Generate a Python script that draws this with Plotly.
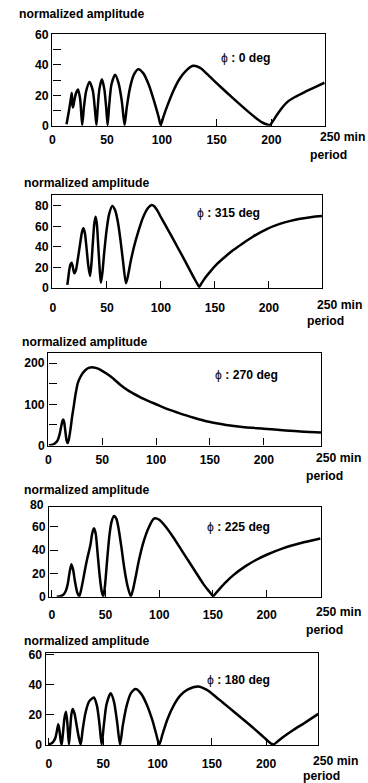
import plotly.graph_objects as go

# ---------------- data (period in min, normalized amplitude) ----------------
p1_x = [13, 15, 17, 17.8, 18.3, 18.9, 20, 21.5, 23.5, 25.5, 27.3, 29, 31, 34, 37, 39, 40.3, 41.5, 43, 45.3,
        47.5, 49.3, 50.5, 52, 54, 57.3, 60.5, 63.5, 66, 68, 71, 74.5, 78.5, 83, 88, 93, 97, 99, 101.5, 105,
        110, 116, 122, 128.5, 135, 142, 150, 160, 170, 177, 185, 192, 196, 198.5, 201, 205, 210, 215, 222,
        231, 240, 248.5]
p1_y = [1, 9, 18, 21.5, 14, 12, 16, 21, 23.7, 17, 0.5, 13, 23, 28.7, 23, 10, 0.5, 12, 24, 30.5,
        24, 11, 0.5, 14, 27, 33.5, 28, 16, 0.5, 12, 25, 33.5, 37, 34.5, 27, 16, 6, 0.5, 6, 13,
        22, 30.5, 36, 39.3, 38, 33.5, 28, 21.3, 14.8, 10.4, 5.6, 2, 0.8, 0.3, 2.5, 7, 12, 15.8, 19,
        22.3, 25.4, 28.2]

p2_x = [13.3, 14.2, 15.1, 16.2, 17.3, 18.5, 19.8, 21.2, 23, 25, 26.8, 28.1, 29.5, 31, 32.7, 34.3, 35.5, 37,
        38.3, 39.5, 40.7, 42, 43.3, 44.4, 45.8, 47.5, 49.5, 52, 54.9, 57.5, 60, 62.5, 65, 67.6, 69.5, 72,
        75, 79, 83.5, 88, 91.4, 94, 97, 100, 104, 108, 116, 122, 127, 131, 134, 135.5, 137.5, 141, 146,
        152, 160, 167, 175, 185, 198, 210, 220, 229, 240, 249]
p2_y = [3, 10, 17.6, 23, 24.7, 20, 14.3, 17, 28, 42, 54, 58.2, 54, 40, 22, 11.7, 22, 45,
        63, 69.6, 62, 40, 18, 5, 15, 35, 55, 72, 80, 76, 65, 47, 25, 4.6, 12, 26,
        40, 55, 69, 78, 81, 79.5, 75, 69, 61.5, 54, 38.5, 27, 17, 9, 3.5, 1.3, 4.5, 10, 16.5,
        23.5, 31, 37, 43, 50, 57.5, 62.5, 65.5, 67.5, 69.2, 70.2]

p3_x = [0.5, 3, 6, 8.5, 10.5, 12, 13.2, 13.8, 14.6, 15.8, 17, 18, 19, 20.5, 22, 23.7, 25.5, 27.5, 29.9,
        32, 34.5, 37.5, 40.7, 44, 48.4, 55, 61, 67, 75, 85.5, 93, 102.5, 110, 120, 135, 149, 165, 180,
        200, 220, 237, 253]
p3_y = [0.5, 1.5, 5, 12, 27, 47, 60, 63, 58, 35, 12, 6, 14, 38, 68, 97, 128, 153, 167,
        176, 183.5, 188.5, 190, 188.5, 184, 173, 161, 147, 132, 117, 108, 97.6, 89, 80, 67.5, 57.5, 50, 45,
        40.8, 36.5, 33.5, 31.5]

p4_x = [4.5, 8, 11, 13, 14.8, 16.5, 18.2, 19.8, 21.5, 23.5, 25.5, 27, 29, 31, 33, 34.8, 36, 37.5, 39.2,
        40.8, 42.5, 44.5, 46.3, 47.9, 49.5, 51.5, 53.5, 55.5, 57.8, 60, 62, 64.5, 67.5, 70.5, 73.5, 75.5,
        78, 81, 85, 90, 95, 100, 106, 113, 121, 128.6, 135, 141, 146, 149, 150.3, 152, 156, 162, 169,
        180, 190, 200, 215, 231, 241, 250]
p4_y = [0, 0.5, 2, 5, 11, 21, 27.8, 23, 13, 4, 0.3, 5, 14, 24, 33, 40, 45, 54, 58.7,
        54, 38, 18, 5, 0.3, 10, 32, 52, 64, 69.3, 67, 59, 44, 24, 9, 0.3, 6,
        17, 31, 46, 59, 67, 66, 60, 51, 39.5, 28.7, 19.5, 11, 5, 1.5, 0.3, 2.3, 6.5, 12.5, 18.5,
        26, 31.5, 36, 41.5, 45.8, 48, 50]

p5_x = [0, 2, 4, 6, 7.5, 8.6, 9.8, 11, 11.7, 12.8, 14.3, 15.7, 17, 18.4, 19.6, 20.6, 21.8, 23.5, 25.5,
        27.5, 29.2, 31, 33.5, 37, 41.4, 44.2, 46.5, 48.5, 50.5, 53, 56.8, 59.8, 62.8, 65.4, 68, 71.5,
        75.5, 79.8, 85, 90, 95, 98.5, 101.6, 104.5, 109, 115, 121, 128, 137.5, 145, 151.3, 160, 170,
        185, 195, 201, 204.5, 206.5, 210, 216, 225, 235, 248]
p5_y = [0.5, 1, 2.2, 5, 10, 13.8, 9, 2, 0.3, 7, 18, 22.2, 14, 0.3, 11, 20, 24, 21, 13,
        5, 0.3, 10, 21, 29, 31.6, 26, 14, 0.3, 13, 27, 34.4, 29, 15, 0.3, 13, 26,
        34.5, 37.3, 34, 27, 17, 8, 0.3, 7, 17, 26.5, 33, 37, 38.9, 36.8, 33.5, 28.3, 22.3,
        13.3, 7, 3, 1, 0.3, 2, 5.5, 10, 14.5, 20.7]

phases = ["0", "315", "270", "225", "180"]
x_ticks = [0, 50, 100, 150, 200]
y_ticks = [[0, 20, 40, 60], [0, 20, 40, 60, 80], [0, 100, 200], [0, 20, 40, 60], [0, 20, 40, 60]]
y_minor = [10, None, 50, None, None]
y_ranges = [[0, 60], [0, 90.7], [0, 224], [0, 76.7], [0, 61]]
x_ranges = [[0, 249], [-0.6, 249.4], [0, 253], [-2.4, 250.3], [-3, 248]]
extra_y_label = [None, None, None, 80, None]

series = [(p1_x, p1_y), (p2_x, p2_y), (p3_x, p3_y), (p4_x, p4_y), (p5_x, p5_y)]

# ---------------- layout geometry (pixels) ----------------
W, H = 368, 783
boxes = [  # left, right, top, bottom
    (52.3, 325.0, 34.3, 125.7),
    (52.3, 322.3, 195.0, 288.0),
    (48.3, 321.0, 353.3, 445.5),
    (49.3, 320.7, 507.3, 596.7),
    (45.7, 318.3, 653.3, 745.0),
]
title_pos = [(17, 14), (22, 183), (20, 342), (22, 490), (22, 641)]
phi_pos = [(219, 58), (195, 213), (213, 375), (205, 527), (205, 680)]
xlabel_gap = [11, 17, 12, 15, 16]
period_gap = [29, 33, 30, 33, 31]

FONT = "Liberation Sans, Arial, Helvetica, sans-serif"
FS = 12.2
fig = go.Figure()
annotations = []

def px(xp):
    return xp / W

def py(yp):
    return 1 - yp / H

for i, (xs, ys) in enumerate(series):
    n = "" if i == 0 else str(i + 1)
    L, R, T, B = boxes[i]
    fig.add_trace(go.Scatter(
        x=xs, y=ys, mode="lines", xaxis="x" + n, yaxis="y" + n,
        line=dict(color="black", width=2.5, shape="spline", smoothing=0.7),
        showlegend=False, hoverinfo="skip"))
    xa = dict(
        domain=[px(L), px(R)], range=x_ranges[i], anchor="y" + n, automargin=False,
        showline=True, linecolor="black", linewidth=1.4, mirror=True,
        ticks="inside", ticklen=7, tickwidth=1.3, tickcolor="black",
        tickvals=x_ticks, ticktext=[str(v) for v in x_ticks],
        tickfont=dict(family=FONT, size=FS, color="black", weight="bold"),
        ticklabelstandoff=max(0, xlabel_gap[i] - 9),
        showgrid=False, zeroline=False, fixedrange=True)
    ya = dict(
        domain=[py(B), py(T)], range=y_ranges[i], anchor="x" + n, automargin=False,
        showline=True, linecolor="black", linewidth=1.4, mirror=True,
        ticks="inside", ticklen=8, tickwidth=1.3, tickcolor="black",
        tickvals=y_ticks[i], ticktext=[str(v) for v in y_ticks[i]],
        tickfont=dict(family=FONT, size=FS, color="black", weight="bold"),
        showgrid=False, zeroline=False, fixedrange=True)
    if y_minor[i]:
        ya["minor"] = dict(dtick=y_minor[i], tick0=0, ticks="inside", ticklen=8,
                           tickwidth=1.3, tickcolor="black", showgrid=False)
    fig.update_layout(**{"xaxis" + n: xa, "yaxis" + n: ya})

    tx, ty = title_pos[i]
    annotations.append(dict(x=px(tx), y=py(ty), xref="paper", yref="paper",
                            xanchor="left", yanchor="middle", showarrow=False,
                            text="<b>normalized amplitude</b>",
                            font=dict(family=FONT, size=FS, color="black")))
    fx, fy = phi_pos[i]
    annotations.append(dict(x=px(fx), y=py(fy), xref="paper", yref="paper",
                            xanchor="left", yanchor="middle", showarrow=False,
                            text="\u03d5<b> : " + phases[i] + " deg</b>",
                            font=dict(family=FONT, size=FS, color="black")))
    annotations.append(dict(x=px(R - 7), y=py(B + xlabel_gap[i]), xref="paper", yref="paper",
                            xanchor="left", yanchor="middle", showarrow=False,
                            text="<b>250 min</b>",
                            font=dict(family=FONT, size=FS, color="black")))
    annotations.append(dict(x=px(R - 17), y=py(B + period_gap[i]), xref="paper", yref="paper",
                            xanchor="left", yanchor="middle", showarrow=False,
                            text="<b>period</b>",
                            font=dict(family=FONT, size=FS, color="black")))
    if extra_y_label[i] is not None:
        ylo, yhi = y_ranges[i]
        ypix = B - (extra_y_label[i] - ylo) / (yhi - ylo) * (B - T)
        annotations.append(dict(x=px(L - 3), y=py(ypix + 1.5), xref="paper", yref="paper",
                                xanchor="right", yanchor="middle", showarrow=False,
                                text="<b>%d</b>" % extra_y_label[i],
                                font=dict(family=FONT, size=FS, color="black")))

fig.update_layout(
    width=W, height=H, margin=dict(l=0, r=0, t=0, b=0),
    paper_bgcolor="white", plot_bgcolor="white",
    annotations=annotations)

fig.write_html("out.html", config={"displayModeBar": False},
               post_script="document.body.style.margin='0';document.body.style.overflow='hidden';")
